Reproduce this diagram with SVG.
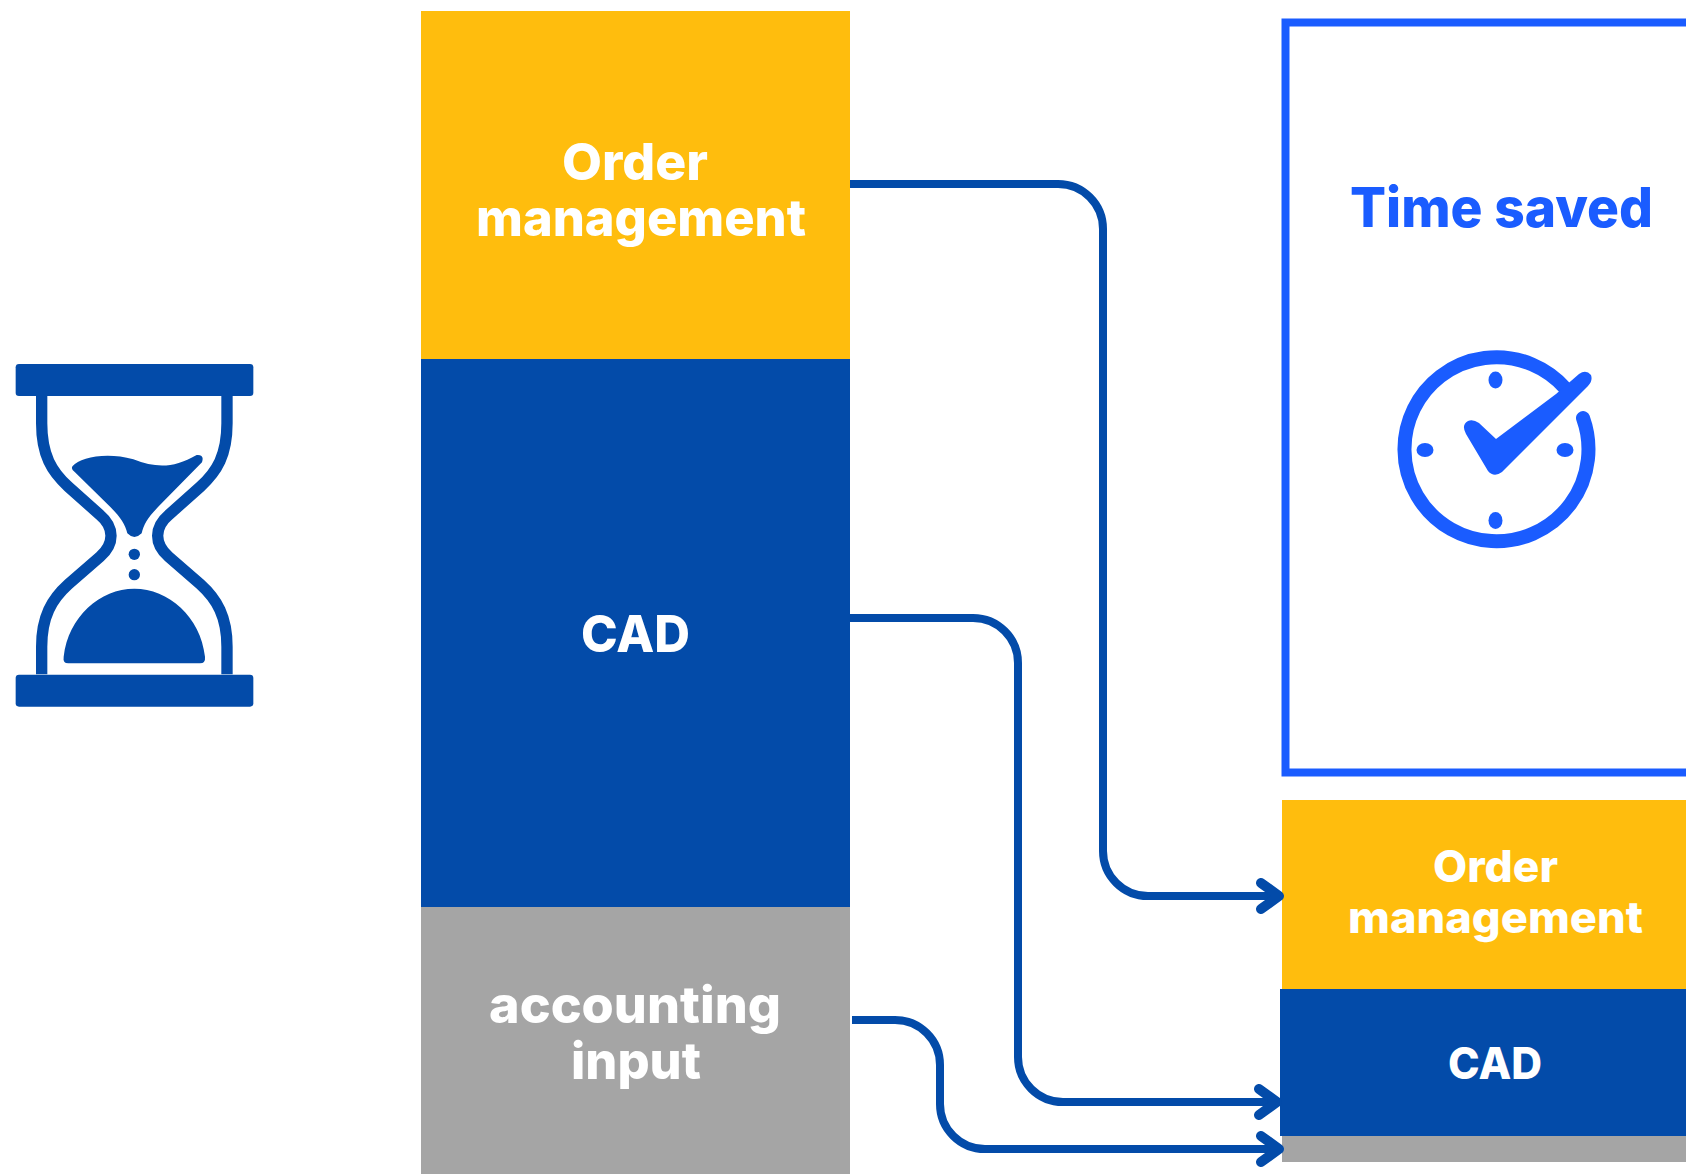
<svg xmlns="http://www.w3.org/2000/svg" width="1686" height="1174" viewBox="0 0 1686 1174">
<style>
.t{font-family:"Inter","Roboto","Liberation Sans",sans-serif;font-weight:800;fill:#fff}
.big{font-size:51px}
.small{font-size:44px}
.conn{fill:none;stroke:#034ba9;stroke-width:8;marker-end:url(#arrow)}
.yellow{fill:#ffbd0d}.blue{fill:#034ba9}.gray{fill:#a5a5a5}.bright{fill:#1a5cff}
</style>
<defs>
<marker id="arrow" markerUnits="userSpaceOnUse" viewBox="-26 -18 32 36" refX="0" refY="0" markerWidth="32" markerHeight="36" orient="auto" overflow="visible">
<path d="M-18,-13 L0,0 L-18,13" fill="none" stroke="#034ba9" stroke-width="10" stroke-linecap="round" stroke-linejoin="round"/>
</marker>
</defs>
<rect width="1686" height="1174" fill="#fff"/>
<g id="hourglass" class="blue">
<g transform="translate(0,340) scale(0.33333)">
<rect x="47" y="72" width="713" height="96" rx="10"/>
<rect x="47" y="1004" width="713" height="96" rx="10"/>
<path fill="none" stroke="#034ba9" stroke-width="34" d="M125,168 V250 C125,345 155,395 205,440 L300,525 C344,562 344,612 300,650 L205,733 C155,778 125,830 125,920 V1003"/>
<path fill="none" stroke="#034ba9" stroke-width="34" d="M681,168 V250 C681,345 651,395 601,440 L506,525 C462,562 462,612 506,650 L601,733 C651,778 681,830 681,920 V1003"/>
<path d="M218,378 C240,352 320,335 400,358 C470,385 520,385 590,345 Q614,343 606,367 L485,490 C445,530 432,550 425,580 Q403,602 382,580 C375,550 360,530 325,495 L225,397 Q211,387 218,378Z"/>
<circle cx="403" cy="643" r="17"/>
<circle cx="403" cy="704" r="17"/>
<path d="M205,970 Q188,970 191,950 C205,830 300,746 403,746 C505,746 602,830 615,950 Q617,970 600,970 Z"/>
</g>
</g>
<g id="left-order">
<rect class="yellow" x="421" y="11" width="429" height="348"/>
<text class="t big" x="562" y="180" textLength="146" lengthAdjust="spacingAndGlyphs">Order</text>
<text class="t big" x="476" y="236" textLength="330" lengthAdjust="spacingAndGlyphs">management</text>
</g>
<g id="left-cad">
<rect class="blue" x="421" y="359" width="429" height="548"/>
<text class="t big" x="581" y="652" textLength="109" lengthAdjust="spacingAndGlyphs">CAD</text>
</g>
<g id="left-accounting">
<rect class="gray" x="421" y="907" width="429" height="267"/>
<text class="t big" x="489" y="1023" textLength="292" lengthAdjust="spacingAndGlyphs">accounting</text>
<text class="t big" x="571" y="1079" textLength="130" lengthAdjust="spacingAndGlyphs">input</text>
</g>
<g id="time-saved">
<rect x="1285.500" y="22.500" width="460" height="750" fill="none" stroke="#1a5cff" stroke-width="8"/>
<text x="1350" y="227" font-family="Inter,'Liberation Sans',sans-serif" font-weight="800" font-size="55" fill="#1a5cff" textLength="303" lengthAdjust="spacingAndGlyphs">Time saved</text>
<path fill="none" stroke="#1a5cff" stroke-width="14" stroke-linecap="round" d="M1583,418 A92,92 0 1 1 1566,389"/>
<ellipse class="bright" cx="1495.500" cy="380" rx="7" ry="8.500"/>
<ellipse class="bright" cx="1495.500" cy="520.500" rx="7" ry="8.500"/>
<ellipse class="bright" cx="1425" cy="450" rx="8.500" ry="7"/>
<ellipse class="bright" cx="1565" cy="450" rx="8.500" ry="7"/>
<path class="bright" d="M1466,434 Q1461,425 1468,421 Q1473,419 1479,423 L1496,439 L1556,394 L1579,374 Q1586,369 1591,375 Q1593,381 1588,386 L1502,472 Q1494,478 1488,471 Z"/>
</g>
<g id="right-order">
<rect class="yellow" x="1282" y="800" width="404" height="189"/>
<text class="t small" x="1433" y="882" textLength="125" lengthAdjust="spacingAndGlyphs">Order</text>
<text class="t small" x="1348" y="933" textLength="295" lengthAdjust="spacingAndGlyphs">management</text>
</g>
<g id="right-cad">
<rect class="blue" x="1280" y="989" width="406" height="147"/>
<text class="t small" x="1448" y="1079" textLength="94" lengthAdjust="spacingAndGlyphs">CAD</text>
</g>
<g id="right-accounting">
<rect class="gray" x="1282" y="1136" width="404" height="26"/>
</g>
<g id="connectors">
<path class="conn" d="M850,184 H1058 A45,45 0 0 1 1103,229 V851 A45,45 0 0 0 1148,896 H1279"/>
<path class="conn" d="M850,618 H973 A45,45 0 0 1 1018,663 V1057 A45,45 0 0 0 1063,1102 H1277"/>
<path class="conn" d="M852,1020 H895 A45,45 0 0 1 940,1065 V1104 A45,45 0 0 0 985,1149 H1279"/>
</g>
</svg>
